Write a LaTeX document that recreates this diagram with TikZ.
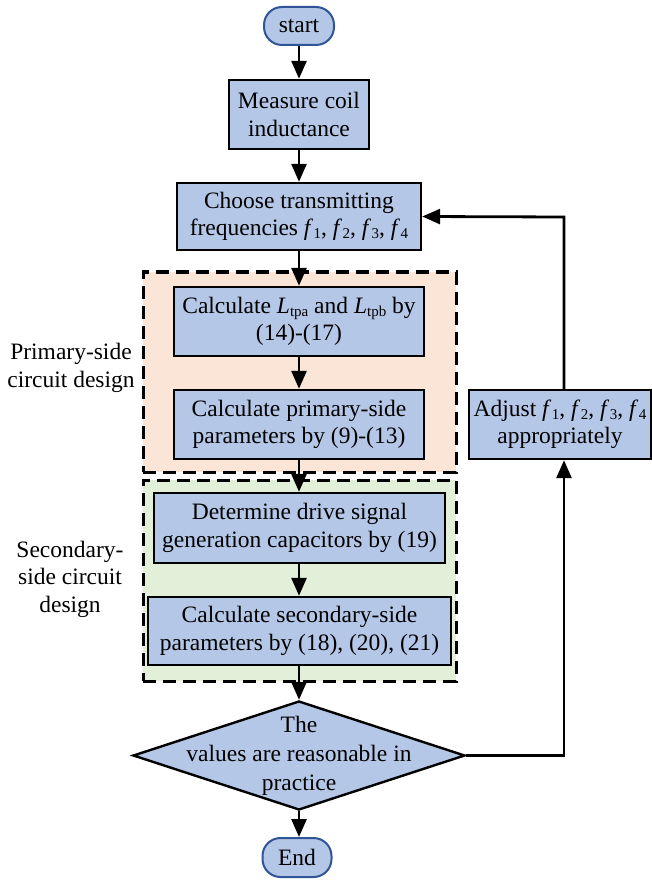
\documentclass[tikz,border=0pt]{standalone}
\usepackage{fontspec}
\setmainfont{Liberation Serif}
\usetikzlibrary{shapes.geometric,arrows.meta}
\definecolor{boxblue}{HTML}{B4C7E7}
\definecolor{pilledge}{HTML}{2F5597}
\definecolor{peach}{HTML}{FBE5D6}
\definecolor{lgreen}{HTML}{E2F0D9}
\newcommand{\fsb}[1]{\textit{f}\kern0.5pt\raisebox{-0.28ex}{\fontsize{15}{15}\selectfont #1}}
\newcommand{\Lsb}[1]{\textit{L}\raisebox{-0.3ex}{\fontsize{15}{15}\selectfont #1}}
\begin{document}
\begin{tikzpicture}[x=1pt,y=-1pt,
  every node/.style={font=\fontsize{23.5}{27.5}\selectfont},
  procbox/.style={draw=black,line width=2.4pt,fill=boxblue,align=center,inner sep=0pt},
  pill/.style={draw=pilledge,line width=2pt,fill=boxblue,rounded corners=18pt,inner sep=0pt},
  groupbox/.style={draw=black,line width=3pt,dash pattern=on 13pt off 7pt,inner sep=0pt},
  arr/.style={line width=2.8pt,-{Triangle[width=15pt,length=18pt]}},
  fline/.style={line width=2.8pt}]
\useasboundingbox (0,0) rectangle (652,882);
% group backgrounds
\node[groupbox,fill=peach,minimum width=313pt,minimum height=200pt] (gp) at (299.5,372) {};
\node[groupbox,fill=lgreen,minimum width=313pt,minimum height=201pt] (gs) at (299.5,580.5) {};
\node[align=center] (lp) at (71,368) {Primary-side\\circuit design};
\node[align=center] (ls) at (70,579) {Secondary-\\side circuit\\design};
% nodes
\node[pill,minimum width=70pt,minimum height=38pt] (start) at (299,26) {start};
\node[procbox,minimum width=140pt,minimum height=69pt] (meas) at (299,114.5) {Measure coil\\inductance};
\node[procbox,minimum width=244pt,minimum height=67pt] (choose) at (299,216.5) {Choose transmitting\\frequencies \fsb{1}, \fsb{2}, \fsb{3}, \fsb{4}};
\node[procbox,minimum width=250pt,minimum height=69pt] (ltp) at (299,321.5) {Calculate \Lsb{tpa} and \Lsb{tpb} by\\(14)-(17)};
\node[procbox,minimum width=250pt,minimum height=69pt] (ppar) at (299,424.5) {Calculate primary-side\\parameters by (9)-(13)};
\node[procbox,minimum width=291pt,minimum height=70pt] (det) at (299.5,528) {Determine drive signal\\generation capacitors by (19)};
\node[procbox,minimum width=303pt,minimum height=68pt] (spar) at (299.5,631) {Calculate secondary-side\\parameters by (18), (20), (21)};
\node[diamond,draw=black,line width=2.4pt,fill=boxblue,minimum width=332pt,minimum height=109pt,inner sep=0pt] (diam) at (299,755.5) {};
\node[align=center,font=\fontsize{23.5}{29}\selectfont] (dtext) at (299,756) {The\\values are reasonable in\\practice};
\node[pill,minimum width=69pt,minimum height=39pt] (end) at (297,857.5) {End};
\node[procbox,minimum width=182pt,minimum height=69pt] (adj) at (560,424.5) {Adjust \fsb{1}, \fsb{2}, \fsb{3}, \fsb{4}\\appropriately};
% connectors
\draw[arr] (start) -- (meas);
\draw[arr] (meas) -- (choose);
\draw[arr] (choose) -- (ltp);
\draw[arr] (ltp) -- (ppar);
\draw[arr] (ppar.south) -- (det.north -| ppar.south);
\draw[arr] (det.south -| ppar.south) -- (spar.north -| ppar.south);
\draw[arr] (spar.south -| ppar.south) -- (diam.north);
\draw[arr] (diam.south) -- (end.north -| diam.south);
\coordinate (fbb) at (564,755.5);
\coordinate (fbt) at (564,217);
\draw[arr] (diam.east) -- (fbb) -- ([xshift=4pt]adj.south);
\draw[arr] ([xshift=4pt]adj.north) -- (fbt) -- (choose.east);
\end{tikzpicture}
\end{document}
